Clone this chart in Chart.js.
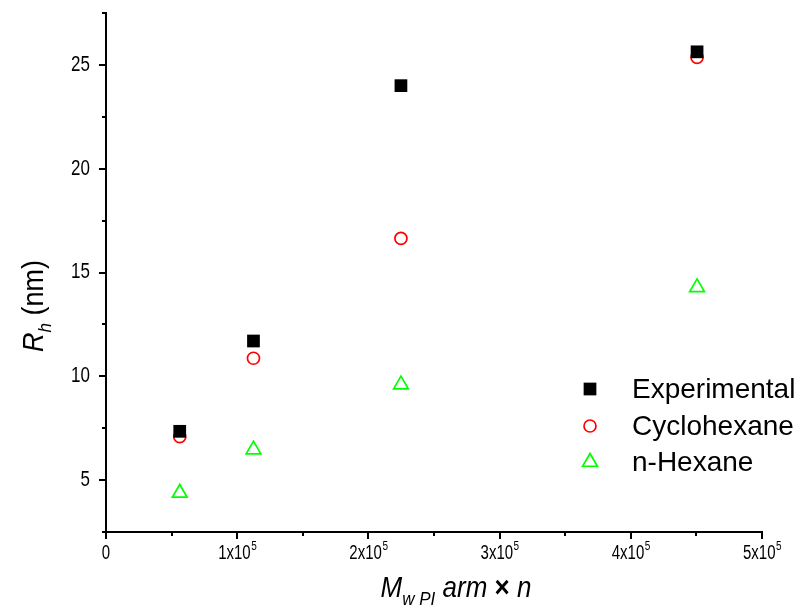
<!DOCTYPE html>
<html><head><meta charset="utf-8">
<script src="https://cdn.jsdelivr.net/npm/chart.js@4.4.0/dist/chart.umd.min.js"></script>
<style>html,body{margin:0;padding:0;background:#fff}#wrap{width:800px;height:608px}</style>
</head><body><div id="wrap"><canvas id="c" width="800" height="608"></canvas></div>
<script>
// ---- data ----
const seriesNames = ['Experimental', 'Cyclohexane', 'n-Hexane'];
const xValues = [56200, 112400, 224800, 450500];          // M_w PI arm x n
const experimental = [7.35, 11.70, 24.0, 25.63];           // R_h (nm)
const cyclohexane = [7.09, 10.87, 16.64, 25.36];
const nHexane = [4.38, 6.47, 9.60, 14.28];
const xTicks = [0, 100000, 200000, 300000, 400000, 500000];
const xTickLabels = ['0', '1x10^5', '2x10^5', '3x10^5', '4x10^5', '5x10^5'];
const xMinorTicks = [50000, 150000, 250000, 350000, 450000];
const yTicks = [5, 10, 15, 20, 25];
const yTickLabels = ['5', '10', '15', '20', '25'];
const yMinorTicks = [2.5, 7.5, 12.5, 17.5, 22.5, 27.5];

const FONT = '"Liberation Sans", Arial, sans-serif';

function pts(ys) { return xValues.map((x, i) => ({ x: x, y: ys[i] })); }

const decor = {
  id: 'decor',
  afterDraw(chart) {
    const ctx = chart.ctx, xs = chart.scales.x, ys = chart.scales.y, ca = chart.chartArea;
    ctx.save();
    ctx.strokeStyle = '#000'; ctx.lineWidth = 2; ctx.lineCap = 'butt';
    const line = (a, b, c, d) => { ctx.beginPath(); ctx.moveTo(a, b); ctx.lineTo(c, d); ctx.stroke(); };
    xTicks.forEach(v => { const p = Math.round(xs.getPixelForValue(v)); line(p, ca.bottom, p, ca.bottom + 7); });
    xMinorTicks.forEach(v => { const p = Math.round(xs.getPixelForValue(v)); line(p, ca.bottom, p, ca.bottom + 4); });
    yTicks.forEach(v => { const p = Math.round(ys.getPixelForValue(v)); line(ca.left - 7, p, ca.left, p); });
    yMinorTicks.forEach(v => { const p = Math.round(ys.getPixelForValue(v)); line(ca.left - 4, p, ca.left, p); });

    ctx.fillStyle = '#000';
    // x tick labels with superscript exponent
    xTicks.forEach((v, i) => {
      const p = xs.getPixelForValue(v);
      const parts = xTickLabels[i].split('^');
      ctx.font = '15px ' + FONT;
      const wm = ctx.measureText(parts[0]).width;
      ctx.font = '10px ' + FONT;
      const we = parts[1] ? ctx.measureText(parts[1]).width : 0;
      const x0 = p - (wm + we) / 2;
      ctx.save();
      ctx.translate(0, ca.bottom + 27);
      ctx.scale(1, 1.3);
      ctx.textAlign = 'left'; ctx.textBaseline = 'alphabetic';
      ctx.font = '15px ' + FONT;
      ctx.fillText(parts[0], x0, 0);
      if (parts[1]) { ctx.font = '10px ' + FONT; ctx.fillText(parts[1], x0 + wm + 0.5, -7); }
      ctx.restore();
    });
    // y tick labels
    yTicks.forEach((v, i) => {
      const p = ys.getPixelForValue(v);
      ctx.save();
      ctx.translate(ca.left - 16, p);
      ctx.scale(1, 1.25);
      ctx.font = '17px ' + FONT; ctx.textAlign = 'right'; ctx.textBaseline = 'middle';
      ctx.fillText(yTickLabels[i], 0, 0);
      ctx.restore();
    });

    // x axis title: M_w PI arm × n
    const xt = [
      { t: 'M', f: 'italic 26px ' + FONT, dy: 0 },
      { t: 'w PI', f: 'italic 17px ' + FONT, dy: 8 },
      { t: ' arm ', f: 'italic 26px ' + FONT, dy: 0 },
      { t: '\u00d7', f: 'bold 26px ' + FONT, dy: 0 },
      { t: ' n', f: 'italic 26px ' + FONT, dy: 0 }
    ];
    let tw = 0;
    xt.forEach(s => { ctx.font = s.f; s.w = ctx.measureText(s.t).width; tw += s.w; });
    let cx = 456 - tw / 2;
    ctx.textAlign = 'left'; ctx.textBaseline = 'alphabetic';
    xt.forEach(s => {
      ctx.save(); ctx.translate(cx, 597 + s.dy); ctx.scale(1, 1.1);
      ctx.font = s.f; ctx.fillText(s.t, 0, 0); ctx.restore(); cx += s.w;
    });

    // y axis title: R_h (nm)
    const yt = [
      { t: 'R', f: 'italic 30px ' + FONT, dy: 0 },
      { t: 'h', f: 'italic 19px ' + FONT, dy: 8 },
      { t: ' (nm)', f: '30px ' + FONT, dy: 0 }
    ];
    tw = 0;
    yt.forEach(s => { ctx.font = s.f; s.w = ctx.measureText(s.t).width * 0.9; tw += s.w; });
    ctx.save();
    ctx.translate(43, 306 + tw / 2);
    ctx.rotate(-Math.PI / 2);
    ctx.scale(0.9, 1);
    cx = 0;
    yt.forEach(s => { ctx.font = s.f; ctx.fillText(s.t, cx / 0.9, s.dy); cx += s.w; });
    ctx.restore();

    // legend
    const legY = [389, 426, 462];
    chart.data.datasets.forEach((ds, i) => {
      ctx.save();
      ctx.fillStyle = ds.backgroundColor; ctx.strokeStyle = ds.borderColor; ctx.lineWidth = ds.borderWidth;
      Chart.helpers.drawPoint(ctx, { pointStyle: ds.pointStyle, radius: ds.pointRadius, borderWidth: ds.borderWidth, rotation: 0 }, 590, legY[i]);
      ctx.restore();
      ctx.fillStyle = '#000';
      ctx.font = '28px ' + FONT; ctx.textAlign = 'left'; ctx.textBaseline = 'middle';
      ctx.fillText(ds.label, 632, legY[i] + 1);
    });
    ctx.restore();
  }
};

new Chart(document.getElementById('c'), {
  type: 'scatter',
  data: {
    datasets: [
      { label: seriesNames[0], data: pts(experimental), pointStyle: 'rect', pointRadius: 9, pointHoverRadius: 9,
        backgroundColor: '#000000', borderColor: '#000000', borderWidth: 0 },
      { label: seriesNames[1], data: pts(cyclohexane), pointStyle: 'circle', pointRadius: 6, pointHoverRadius: 6,
        backgroundColor: 'rgba(0,0,0,0)', borderColor: '#ff0000', borderWidth: 1.7 },
      { label: seriesNames[2], data: pts(nHexane), pointStyle: 'triangle', pointRadius: 8.5, pointHoverRadius: 8.5,
        backgroundColor: 'rgba(0,0,0,0)', borderColor: '#00ff00', borderWidth: 1.7 }
    ]
  },
  options: {
    responsive: false, animation: false, devicePixelRatio: 1,
    layout: { padding: { left: 0, top: 13, right: 38, bottom: 0 } },
    plugins: { legend: { display: false }, tooltip: { enabled: false } },
    scales: {
      x: { type: 'linear', min: 0, max: 500000,
           grid: { display: false }, border: { display: true, color: '#000', width: 2 },
           ticks: { display: false },
           afterBuildTicks: s => { s.ticks = xTicks.map(v => ({ value: v })); },
           afterFit: s => { s.height = 76; } },
      y: { type: 'linear', min: 2.5, max: 27.5,
           grid: { display: false }, border: { display: true, color: '#000', width: 2 },
           ticks: { display: false },
           afterBuildTicks: s => { s.ticks = yTicks.map(v => ({ value: v })); },
           afterFit: s => { s.width = 106; } }
    }
  },
  plugins: [decor]
});
</script>
</body></html>
